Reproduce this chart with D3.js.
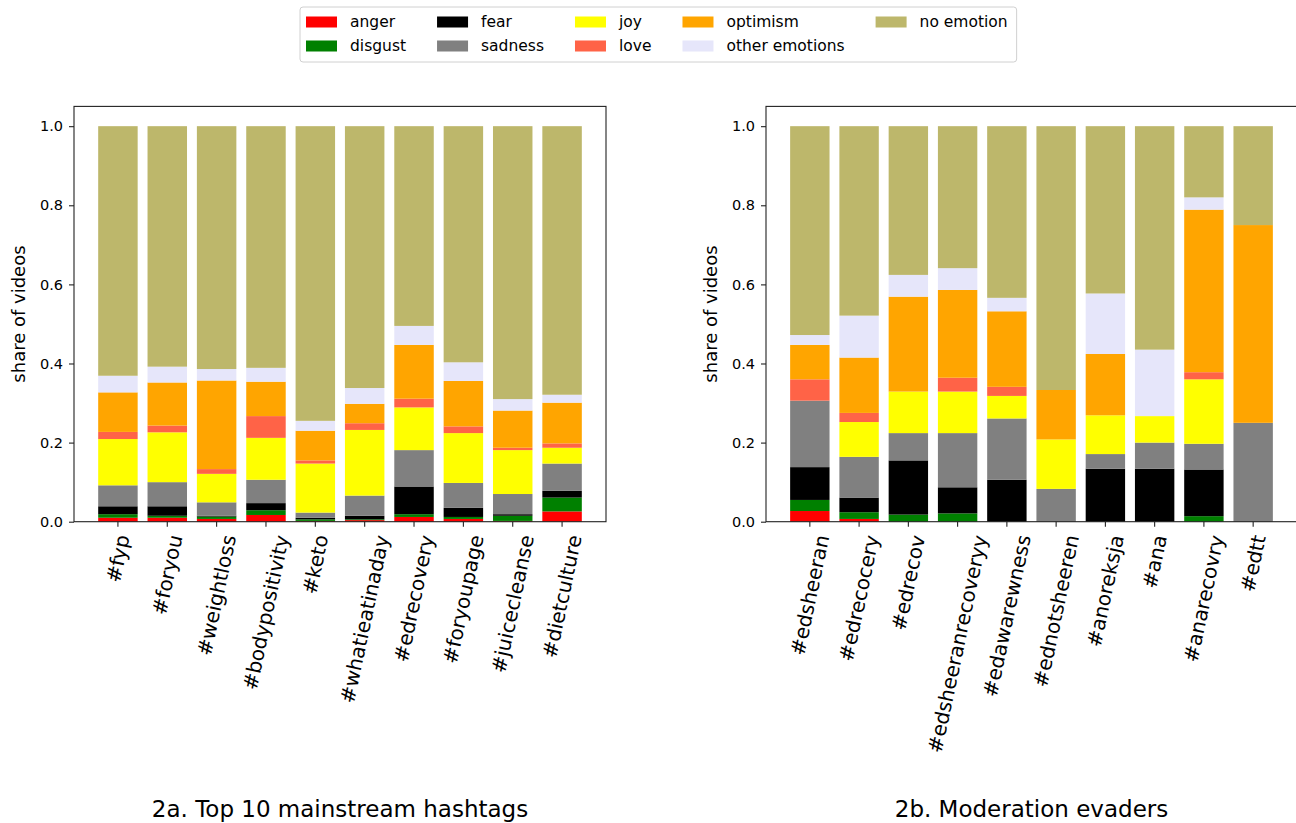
<!DOCTYPE html>
<html>
<head>
<meta charset="utf-8">
<script src="https://cdn.jsdelivr.net/npm/d3@7"></script>
<style>
  body { margin: 0; background: #fff; }
  text { font-family: "DejaVu Sans", sans-serif; fill: #000; }
</style>
</head>
<body>
<svg id="chart" width="1296" height="823"></svg>
<script>
// emotion categories, bottom of the stack first
const emotions = ["anger", "disgust", "fear", "sadness", "joy", "love", "optimism", "other emotions", "no emotion"]
const emotionColors = ["red", "green", "black", "grey", "yellow", "tomato", "orange", "lavender", "darkkhaki"]

const mainstreamTags = ["#fyp", "#foryou", "#weightloss", "#bodypositivity", "#keto", "#whatieatinaday", "#edrecovery", "#foryoupage", "#juicecleanse", "#dietculture"]
const evaderTags = ["#edsheeran", "#edrecocery", "#edrecov", "#edsheeranrecoveryy", "#edawarewness", "#ednotsheeren", "#anoreksja", "#ana", "#anarecovry", "#edtt"]

// share of videos, one row per emotion (same order as emotions), one value per hashtag
const mainstreamShares = [
  [0.010, 0.010, 0.007, 0.017, 0.002, 0.004, 0.012, 0.007, 0.002, 0.026],
  [0.009, 0.005, 0.006, 0.012, 0.004, 0.002, 0.007, 0.005, 0.013, 0.035],
  [0.020, 0.024, 0.002, 0.018, 0.004, 0.009, 0.070, 0.023, 0.004, 0.017],
  [0.053, 0.061, 0.034, 0.059, 0.013, 0.051, 0.092, 0.063, 0.051, 0.069],
  [0.117, 0.126, 0.072, 0.106, 0.124, 0.166, 0.108, 0.126, 0.111, 0.040],
  [0.018, 0.017, 0.012, 0.055, 0.008, 0.017, 0.022, 0.017, 0.006, 0.011],
  [0.100, 0.109, 0.224, 0.087, 0.075, 0.049, 0.136, 0.115, 0.094, 0.103],
  [0.042, 0.040, 0.029, 0.035, 0.025, 0.040, 0.048, 0.047, 0.029, 0.020],
  [0.631, 0.608, 0.614, 0.611, 0.745, 0.662, 0.505, 0.597, 0.690, 0.679]
]
const evaderShares = [
  [0.027, 0.007, 0.000, 0.000, 0.000, 0.000, 0.000, 0.000, 0.000, 0.000],
  [0.028, 0.017, 0.018, 0.021, 0.000, 0.000, 0.000, 0.000, 0.014, 0.000],
  [0.083, 0.037, 0.137, 0.066, 0.106, 0.000, 0.134, 0.134, 0.118, 0.000],
  [0.168, 0.103, 0.069, 0.137, 0.155, 0.083, 0.037, 0.066, 0.065, 0.250],
  [0.000, 0.088, 0.105, 0.105, 0.057, 0.125, 0.098, 0.067, 0.163, 0.000],
  [0.054, 0.023, 0.000, 0.035, 0.023, 0.000, 0.000, 0.000, 0.018, 0.000],
  [0.087, 0.140, 0.240, 0.222, 0.191, 0.125, 0.155, 0.000, 0.411, 0.500],
  [0.025, 0.106, 0.055, 0.055, 0.034, 0.000, 0.153, 0.168, 0.031, 0.000],
  [0.528, 0.479, 0.376, 0.359, 0.434, 0.667, 0.423, 0.565, 0.180, 0.250]
]
const yTicks = [0, 0.2, 0.4, 0.6, 0.8, 1.0]

const svg = d3.select("#chart")
const axTop = 106.4, axBottom = 521.7

const y = d3.scaleLinear().domain([0, 1.05]).range([axBottom, axTop])

function drawPanel(left, right, tags, shares, title) {
  const n = tags.length
  // matplotlib style margins: bars of width 0.8, 5% padding
  const pad = 0.05 * (n - 1 + 0.8)
  const x = d3.scaleLinear().domain([-0.4 - pad, n - 1 + 0.4 + pad]).range([left, right])
  const g = svg.append("g")

  const rows = tags.map((t, i) => {
    const r = { tag: t, i: i }
    emotions.forEach((e, k) => r[e] = shares[k][i])
    return r
  })
  const series = d3.stack().keys(emotions)(rows)

  g.selectAll(".layer").data(series).enter().append("g")
    .attr("fill", (d, k) => emotionColors[k])
    .selectAll("rect").data(d => d).enter().append("rect")
    .attr("x", d => x(d.data.i - 0.4))
    .attr("width", d => x(d.data.i + 0.4) - x(d.data.i - 0.4))
    .attr("y", d => y(d[1]))
    .attr("height", d => y(d[0]) - y(d[1]))

  // frame
  g.append("rect").attr("x", left).attr("y", axTop).attr("width", right - left).attr("height", axBottom - axTop)
    .attr("fill", "none").attr("stroke", "#222").attr("stroke-width", 1.1)

  // y axis
  const ya = g.append("g").attr("transform", `translate(${left},0)`)
    .call(d3.axisLeft(y).tickValues(yTicks).tickFormat(d3.format(".1f")).tickSize(5).tickPadding(6))
  ya.select(".domain").remove()
  ya.selectAll("line").attr("stroke", "#222").attr("stroke-width", 1.1)
  ya.selectAll("text").style("font-size", "14.5px").style("font-family", "DejaVu Sans")

  g.append("text").text("share of videos")
    .attr("transform", `translate(${left - 55},${(axTop + axBottom) / 2}) rotate(-90)`)
    .attr("text-anchor", "middle").attr("dy", "0.35em").style("font-size", "18px")

  // x ticks and rotated labels, centred under the tick like matplotlib ha=center
  tags.forEach((t, i) => {
    const tx = x(i)
    g.append("line").attr("x1", tx).attr("x2", tx).attr("y1", axBottom).attr("y2", axBottom + 5)
      .attr("stroke", "#222").attr("stroke-width", 1.1)
    const lab = g.append("text").text(t)
      .attr("text-anchor", "end").attr("dy", "0.35em")
      .style("font-size", "20px")
      .attr("transform", `translate(${tx},${axBottom + 20}) rotate(-78)`)
    const b = lab.node().getBoundingClientRect()
    const cx = (b.left + b.right) / 2
    const shiftX = tx - cx
    const shiftY = (axBottom + 11) - b.top
    lab.attr("transform", `translate(${tx + shiftX},${axBottom + 20 + shiftY}) rotate(-78)`)
  })

  g.append("text").text(title)
    .attr("x", (left + right) / 2).attr("y", 817)
    .attr("text-anchor", "middle").style("font-size", "23px")
}

drawPanel(74, 606, mainstreamTags, mainstreamShares, "2a. Top 10 mainstream hashtags")
drawPanel(766, 1297, evaderTags, evaderShares, "2b. Moderation evaders")

// legend, 5 columns filled column by column like matplotlib
function drawLegend() {
  const fs = 15.5
  const lg = svg.append("g")
  const box = lg.append("rect").attr("fill", "white").attr("stroke", "#d0d0d0").attr("rx", 3)
  const rowY = [22, 46]
  let colX = 306
  const nCols = 5
  let lastRight = 0
  for (let c = 0; c < nCols; c++) {
    let maxW = 0
    for (let r = 0; r < 2; r++) {
      const k = c * 2 + r
      if (k >= emotions.length) continue
      lg.append("rect").attr("x", colX).attr("y", rowY[r] - 5.5).attr("width", 31).attr("height", 11)
        .attr("fill", emotionColors[k])
      const t = lg.append("text").text(emotions[k]).attr("x", colX + 44).attr("y", rowY[r])
        .attr("dy", "0.35em").style("font-size", fs + "px")
      maxW = Math.max(maxW, t.node().getComputedTextLength())
    }
    lastRight = colX + 44 + maxW
    colX = colX + 44 + maxW + 31
  }
  box.attr("x", 300).attr("y", 7).attr("width", lastRight + 9 - 300).attr("height", 55)
}
drawLegend()
</script>
</body>
</html>
